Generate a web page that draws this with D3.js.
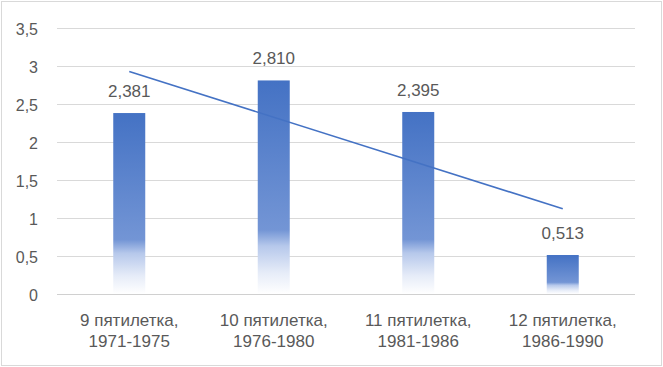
<!DOCTYPE html>
<html>
<head>
<meta charset="utf-8">
<script src="https://cdn.jsdelivr.net/npm/d3@7"></script>
<style>
  html, body { margin: 0; padding: 0; background: #fff; }
  svg { display: block; }
  text { font-family: "Liberation Sans", Arial, sans-serif; fill: #595959; }
</style>
</head>
<body>
<svg id="chart" width="663" height="367"></svg>
<script>
const categories = ["9 пятилетка, 1971-1975", "10 пятилетка, 1976-1980", "11 пятилетка, 1981-1986", "12 пятилетка, 1986-1990"];
const values = [2.381, 2.810, 2.395, 0.513];
const valueLabels = ["2,381", "2,810", "2,395", "0,513"];
const yTicks = [0, 0.5, 1, 1.5, 2, 2.5, 3, 3.5];
const yTickLabels = ["0", "0,5", "1", "1,5", "2", "2,5", "3", "3,5"];

const W = 663, H = 367;
const margin = { left: 57, right: 28, top: 28, bottom: 73 };
const svg = d3.select("#chart");

// chart border
svg.append("rect").attr("x", 1.5).attr("y", 1.5).attr("width", W - 3).attr("height", H - 3)
  .attr("fill", "#fff").attr("stroke", "#d9d9d9").attr("stroke-width", 1);

const x = d3.scaleBand().domain(categories).range([margin.left, W - margin.right]).paddingInner(0).paddingOuter(0);
const y = d3.scaleLinear().domain([0, 3.5]).range([H - margin.bottom, margin.top]);

const defs = svg.append("defs");
const grad = defs.append("linearGradient").attr("id", "barGrad")
  .attr("x1", 0).attr("y1", 0).attr("x2", 0).attr("y2", 1);
[[0, "#4472C4"], [0.70, "#7395d5"], [0.775, "#b6c8eb"], [0.9, "#e6ecf8"], [1, "#ffffff"]]
  .forEach(([o, c]) => grad.append("stop").attr("offset", o).attr("stop-color", c));

// gridlines
svg.append("g").selectAll("line").data(yTicks).join("line")
  .attr("x1", margin.left).attr("x2", W - margin.right)
  .attr("y1", d => Math.round(y(d)) + 0.5).attr("y2", d => Math.round(y(d)) + 0.5)
  .attr("stroke", d => d === 0 ? "#d0d0d0" : "#d9d9d9").attr("stroke-width", 1);

// y tick labels
svg.append("g").selectAll("text").data(yTicks).join("text")
  .attr("x", 38).attr("y", d => y(d) + 7)
  .attr("text-anchor", "end").attr("font-size", 16)
  .text((d, i) => yTickLabels[i]);

// bars
const bw = 32;
svg.append("g").selectAll("rect").data(values).join("rect")
  .attr("x", (d, i) => x(categories[i]) + x.bandwidth() / 2 - bw / 2)
  .attr("width", bw)
  .attr("y", d => y(d))
  .attr("height", d => y(0) - y(d))
  .attr("fill", "url(#barGrad)");

// value labels
svg.append("g").selectAll("text").data(values).join("text")
  .attr("x", (d, i) => x(categories[i]) + x.bandwidth() / 2)
  .attr("y", d => y(d) - 16)
  .attr("text-anchor", "middle").attr("font-size", 17)
  .text((d, i) => valueLabels[i]);

// linear trend line (least squares over category index)
const n = values.length;
const xs = values.map((d, i) => i + 1);
const mx = d3.mean(xs), my = d3.mean(values);
const slope = d3.sum(xs.map((xi, i) => (xi - mx) * (values[i] - my))) / d3.sum(xs.map(xi => (xi - mx) ** 2));
const intercept = my - slope * mx;
const trend = [1, n].map(t => [x(categories[t - 1]) + x.bandwidth() / 2, y(intercept + slope * t)]);
svg.append("path").attr("d", d3.line()(trend))
  .attr("fill", "none").attr("stroke", "#4472C4").attr("stroke-width", 1.6);

// category labels
const cat = svg.append("g");
categories.forEach(c => {
  const parts = c.split(", ");
  const t = cat.append("text").attr("text-anchor", "middle").attr("font-size", 17);
  const cx = x(c) + x.bandwidth() / 2;
  t.append("tspan").attr("x", cx).attr("y", 325.5).text(parts[0] + ",");
  t.append("tspan").attr("x", cx).attr("y", 347).text(parts[1]);
});
</script>
</body>
</html>
